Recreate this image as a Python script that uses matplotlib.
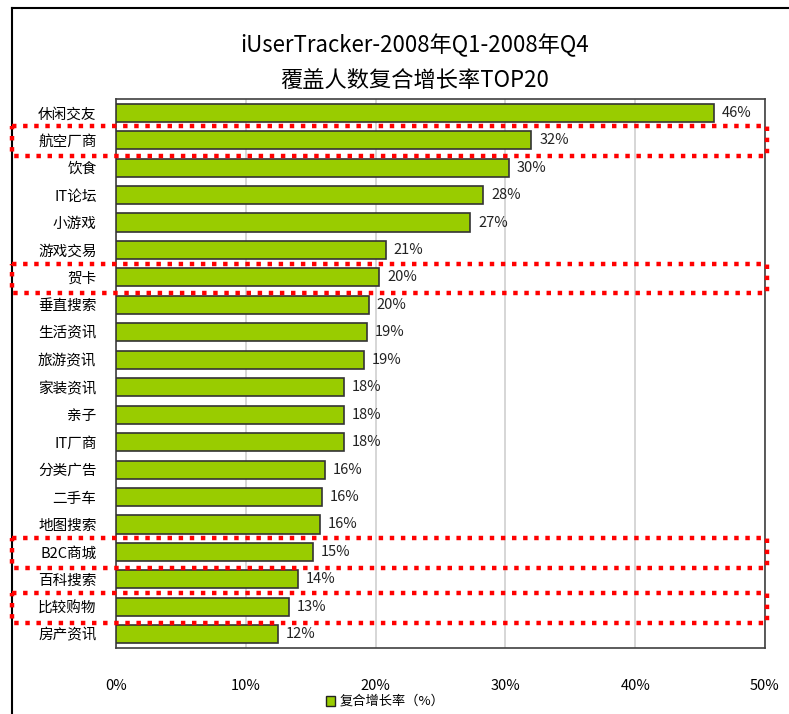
import matplotlib
matplotlib.use("Agg")
import matplotlib.pyplot as plt
import matplotlib.transforms as mtransforms
from matplotlib.patches import Rectangle
from matplotlib.lines import Line2D

plt.rcParams['font.family'] = ['Noto Sans CJK SC', 'DejaVu Sans']

categories = ["休闲交友", "航空厂商", "饮食", "IT论坛", "小游戏", "游戏交易", "贺卡",
              "垂直搜索", "生活资讯", "旅游资讯", "家装资讯", "亲子", "IT厂商",
              "分类广告", "二手车", "地图搜索", "B2C商城", "百科搜索", "比较购物", "房产资讯"]
growth = [46.1, 32.0, 30.3, 28.3, 27.3, 20.8, 20.3, 19.5, 19.3, 19.1,
          17.6, 17.6, 17.6, 16.1, 15.9, 15.7, 15.2, 14.0, 13.3, 12.5]
highlighted = ["航空厂商", "贺卡", "B2C商城", "比较购物"]
xticks = [0, 10, 20, 30, 40, 50]

fig = plt.figure(figsize=(7.89, 7.14), dpi=100)
ax = fig.add_axes([116 / 789, 1 - 648 / 714, (765 - 116) / 789, (648 - 99) / 714])

ypos = list(range(len(categories)))
ax.barh(ypos, growth, height=0.66, color="#99CC00", edgecolor="#333333",
        linewidth=1.2, zorder=3)
for y, v in zip(ypos, growth):
    ax.text(v + 0.6, y, f"{v:.0f}%", va="center", ha="left", fontsize=10.5, color="#222222")

ax.set_ylim(len(categories) - 0.5, -0.5)
ax.set_xlim(0, 50)
ax.set_yticks(ypos)
ax.set_yticklabels(categories, fontsize=10.5)
ax.set_xticks(xticks)
ax.set_xticklabels([f"{t}%" for t in xticks], fontsize=10.5)
ax.tick_params(axis="x", length=0, pad=22)
ax.tick_params(axis="y", length=0, pad=14)
ax.grid(axis="x", color="#D0D0D0", linewidth=1.2, zorder=0)
for s in ax.spines.values():
    s.set_color("#404040")
    s.set_linewidth(1.2)

# red dotted highlight boxes around selected rows
trans = mtransforms.blended_transform_factory(fig.transFigure, ax.transData)
for name in highlighted:
    i = categories.index(name)
    rect = Rectangle((12 / 789, i - 0.5), (767 - 12) / 789, 1.08, transform=trans,
                     fill=False, edgecolor="#FF0000", linewidth=3.2,
                     linestyle=(0, (1, 1.5)), clip_on=False, zorder=5)
    fig.add_artist(rect)

# outer frame (left and top only)
fig.add_artist(Line2D([12 / 789, 12 / 789], [0, 1 - 8 / 714], transform=fig.transFigure,
                      color="black", linewidth=1.5))
fig.add_artist(Line2D([12 / 789, 1], [1 - 8 / 714, 1 - 8 / 714], transform=fig.transFigure,
                      color="black", linewidth=1.5))

fig.text(415 / 789, 1 - 45 / 714, "iUserTracker-2008年Q1-2008年Q4", ha="center",
         va="center", fontsize=16, fontweight="medium")
fig.text(415 / 789, 1 - 80 / 714, "覆盖人数复合增长率TOP20", ha="center",
         va="center", fontsize=16, fontweight="medium")

# legend
fig.add_artist(Rectangle((326 / 789, 1 - 706 / 714), 9 / 789, 10 / 714,
                         transform=fig.transFigure, facecolor="#99CC00",
                         edgecolor="#222222", linewidth=1))
fig.text(340 / 789, 1 - 701 / 714, "复合增长率（%）", ha="left", va="center", fontsize=9.5)

fig.savefig("out.png", dpi=100)
